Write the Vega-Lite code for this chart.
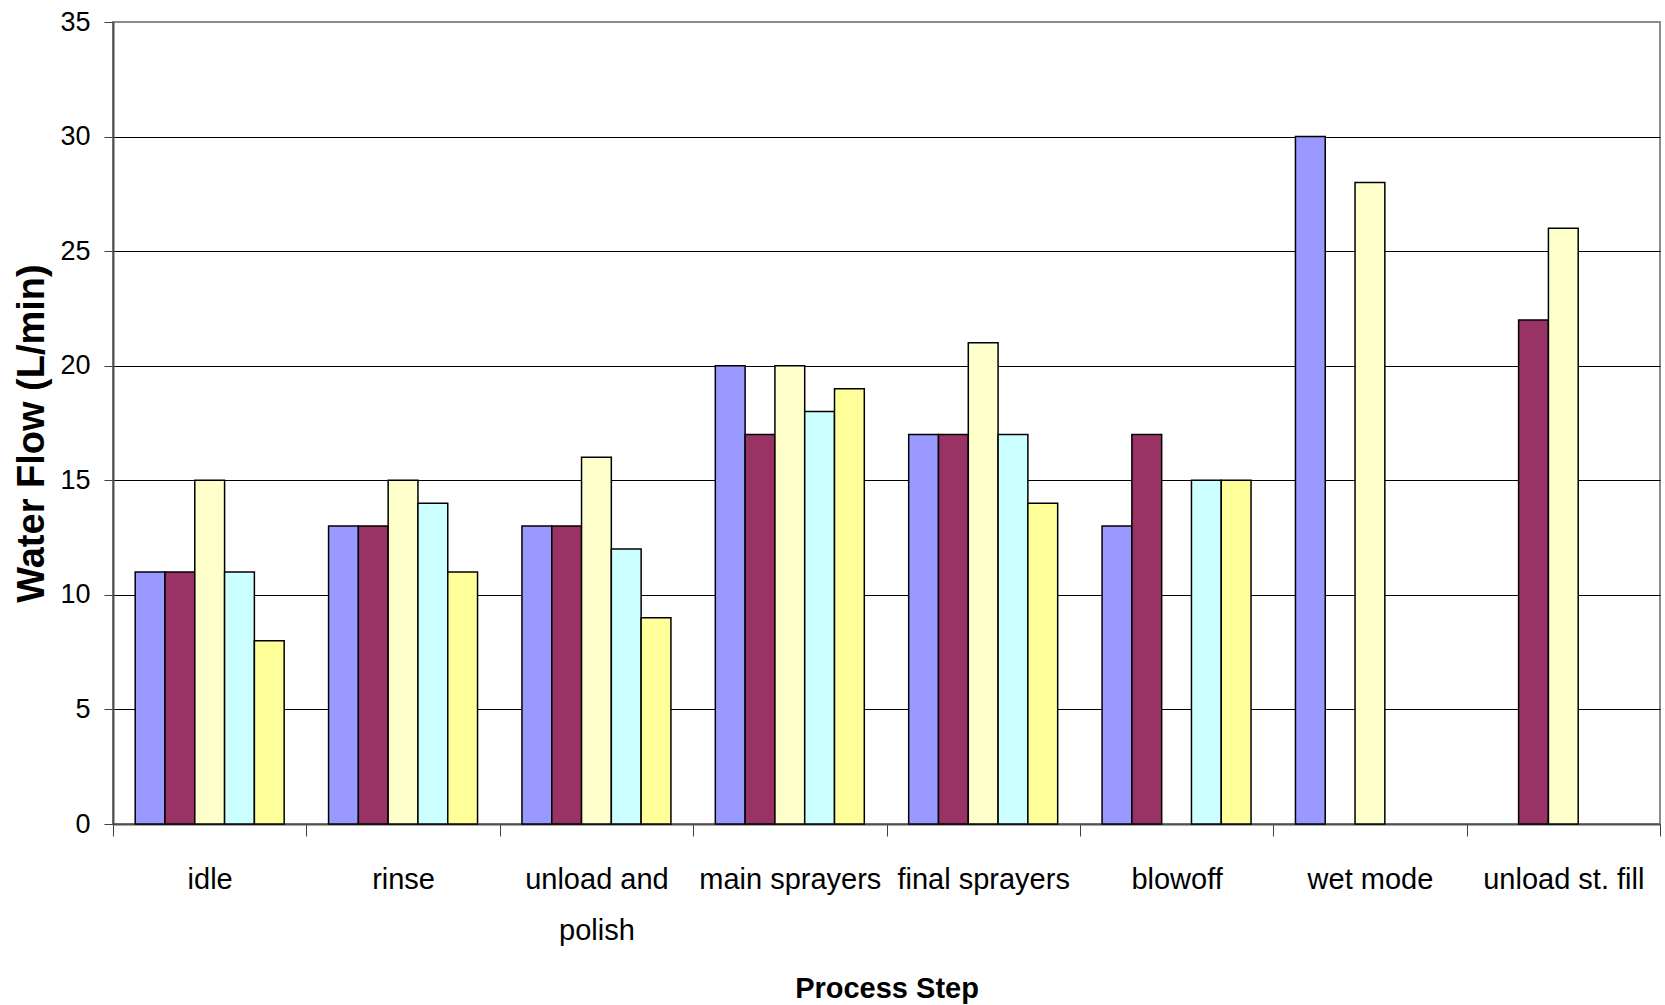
{
  "$schema": "https://vega.github.io/schema/vega-lite/v6.json",
  "width": 1547,
  "height": 802,
  "autosize": {"type": "none"},
  "padding": {"left": 113, "top": 22, "right": 5, "bottom": 181},
  "background": "white",
  "config": {
    "view": {"stroke": "#8c8c8c", "strokeWidth": 2},
    "font": "Liberation Sans, Arial, sans-serif"
  },
  "data": {
    "values": [
      {"step": "idle", "series": "Series 1", "flow": 11},
      {"step": "idle", "series": "Series 2", "flow": 11},
      {"step": "idle", "series": "Series 3", "flow": 15},
      {"step": "idle", "series": "Series 4", "flow": 11},
      {"step": "idle", "series": "Series 5", "flow": 8},
      {"step": "rinse", "series": "Series 1", "flow": 13},
      {"step": "rinse", "series": "Series 2", "flow": 13},
      {"step": "rinse", "series": "Series 3", "flow": 15},
      {"step": "rinse", "series": "Series 4", "flow": 14},
      {"step": "rinse", "series": "Series 5", "flow": 11},
      {"step": "unload and polish", "series": "Series 1", "flow": 13},
      {"step": "unload and polish", "series": "Series 2", "flow": 13},
      {"step": "unload and polish", "series": "Series 3", "flow": 16},
      {"step": "unload and polish", "series": "Series 4", "flow": 12},
      {"step": "unload and polish", "series": "Series 5", "flow": 9},
      {"step": "main sprayers", "series": "Series 1", "flow": 20},
      {"step": "main sprayers", "series": "Series 2", "flow": 17},
      {"step": "main sprayers", "series": "Series 3", "flow": 20},
      {"step": "main sprayers", "series": "Series 4", "flow": 18},
      {"step": "main sprayers", "series": "Series 5", "flow": 19},
      {"step": "final sprayers", "series": "Series 1", "flow": 17},
      {"step": "final sprayers", "series": "Series 2", "flow": 17},
      {"step": "final sprayers", "series": "Series 3", "flow": 21},
      {"step": "final sprayers", "series": "Series 4", "flow": 17},
      {"step": "final sprayers", "series": "Series 5", "flow": 14},
      {"step": "blowoff", "series": "Series 1", "flow": 13},
      {"step": "blowoff", "series": "Series 2", "flow": 17},
      {"step": "blowoff", "series": "Series 4", "flow": 15},
      {"step": "blowoff", "series": "Series 5", "flow": 15},
      {"step": "wet mode", "series": "Series 1", "flow": 30},
      {"step": "wet mode", "series": "Series 3", "flow": 28},
      {"step": "unload st. fill", "series": "Series 2", "flow": 22},
      {"step": "unload st. fill", "series": "Series 3", "flow": 26}
    ]
  },
  "mark": {"type": "bar", "stroke": "black", "strokeWidth": 1.5, "strokeJoin": "miter"},
  "encoding": {
    "x": {
      "field": "step",
      "type": "nominal",
      "sort": null,
      "scale": {"paddingInner": 0, "paddingOuter": 0},
      "axis": {
        "title": "Process Step",
        "titleFontSize": 29,
        "titleFontWeight": "bold",
        "titleColor": "black",
        "titleBaseline": "alphabetic",
        "titleY": 173,
        "labelAngle": 0,
        "labelFontSize": 29,
        "labelColor": "black",
        "labelLimit": 0,
        "labelPadding": 29,
        "labelBaseline": "top",
        "labelLineHeight": 51,
        "labelExpr": "datum.value == 'unload and polish' ? ['unload and', 'polish'] : datum.value",
        "tickBand": "extent",
        "tickSize": 12,
        "tickColor": "#404040",
        "domainColor": "#505050",
        "domainWidth": 2,
        "grid": false
      }
    },
    "xOffset": {
      "field": "series",
      "type": "nominal",
      "scale": {
        "domain": ["Series 1", "Series 2", "Series 3", "Series 4", "Series 5"],
        "paddingInner": 0,
        "paddingOuter": 0.745
      }
    },
    "y": {
      "field": "flow",
      "type": "quantitative",
      "scale": {"domain": [0, 35], "nice": false},
      "axis": {
        "title": "Water Flow (L/min)",
        "titleFontSize": 38,
        "titleFontWeight": "bold",
        "titleColor": "black",
        "titleAngle": -90,
        "titleBaseline": "alphabetic",
        "titleX": -70,
        "titleY": 411,
        "values": [0, 5, 10, 15, 20, 25, 30, 35],
        "labelFontSize": 27,
        "labelColor": "black",
        "labelPadding": 14,
        "tickSize": 9,
        "tickColor": "#404040",
        "domainColor": "#505050",
        "domainWidth": 2,
        "grid": true,
        "gridColor": {"condition": {"test": "datum.value === 35", "value": "#8c8c8c"}, "value": "black"},
        "gridWidth": 1.2
      }
    },
    "color": {
      "field": "series",
      "type": "nominal",
      "scale": {
        "domain": ["Series 1", "Series 2", "Series 3", "Series 4", "Series 5"],
        "range": ["#9999FF", "#993366", "#FFFFCC", "#CCFFFF", "#FFFF99"]
      },
      "legend": null
    }
  }
}
